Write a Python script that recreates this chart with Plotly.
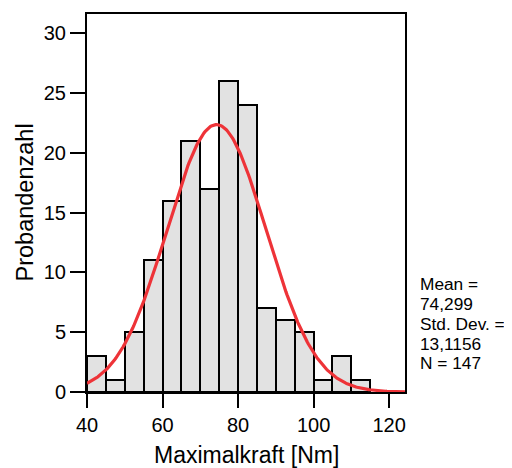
import numpy as np
import plotly.graph_objects as go

bin_edges = [40, 45, 50, 55, 60, 65, 70, 75, 80, 85, 90, 95, 100, 105, 110]
bin_width = 5
counts = [3, 1, 5, 11, 16, 21, 17, 26, 24, 7, 6, 5, 1, 3, 1]
mean_val = 74.299
sd_val = 13.1156
n_val = 147
x_ticks = [40, 60, 80, 100, 120]
y_ticks = [0, 5, 10, 15, 20, 25, 30]
stats_lines = ["Mean =", "74,299", "Std. Dev. =", "13,1156", "N = 147"]

centers = [e + bin_width / 2 for e in bin_edges]
xs = np.linspace(40, 124.2, 300)
curve = n_val * bin_width * np.exp(-0.5 * ((xs - mean_val) / sd_val) ** 2) / (sd_val * np.sqrt(2 * np.pi))

fig = go.Figure()
fig.add_trace(go.Bar(x=centers, y=counts, width=bin_width,
                     marker=dict(color="#e2e2e2", line=dict(color="black", width=2)),
                     hoverinfo="skip"))
fig.add_trace(go.Scatter(x=xs, y=curve, mode="lines",
                         line=dict(color="#ee3338", width=3.2), hoverinfo="skip"))

font = "Liberation Sans, Arial, sans-serif"
OFF = 8  # page body margin
W, H = 512 - OFF, 468 - OFF
L, T = 87 - OFF, 14 - OFF
R = W - (405 - OFF)
B = H - (392 - OFF)
pw, ph = W - L - R, H - T - B

def px_x(px):
    return (px - OFF - L) / pw

def px_y(py):
    return (H - B - (py - OFF)) / ph

annotations = [
    dict(x=px_x(246.7), y=px_y(454.5), xref="paper", yref="paper", xanchor="center", yanchor="middle",
         showarrow=False, text="Maximalkraft [Nm]", font=dict(size=23)),
    dict(x=px_x(24), y=px_y(202.5), xref="paper", yref="paper", xanchor="center", yanchor="middle",
         showarrow=False, text="Probandenzahl", textangle=-90, font=dict(size=23.5)),
]
for i, s in enumerate(stats_lines):
    annotations.append(dict(x=px_x(418), y=px_y(284.3 + 19.75 * i), xref="paper", yref="paper",
                            xanchor="left", yanchor="middle", align="left", showarrow=False,
                            text=s, font=dict(size=17.3)))

fig.update_layout(
    width=W, height=H,
    margin=dict(l=L, r=R, t=T, b=B),
    paper_bgcolor="white", plot_bgcolor="white",
    showlegend=False, bargap=0,
    font=dict(family=font, color="black"),
    xaxis=dict(range=[40, 124.2], tickvals=x_ticks, ticks="outside", ticklen=14, tickwidth=2,
               tickcolor="black", showline=True, linecolor="black", linewidth=2, mirror=True,
               showgrid=False, zeroline=False, tickfont=dict(size=20), automargin=False),
    yaxis=dict(range=[0, 31.6], tickvals=y_ticks, ticks="outside", ticklen=15, tickwidth=2,
               tickcolor="black", showline=True, linecolor="black", linewidth=2, mirror=True,
               showgrid=False, zeroline=False, tickfont=dict(size=20), automargin=False),
    annotations=annotations,
)
fig.write_html("out.html")
